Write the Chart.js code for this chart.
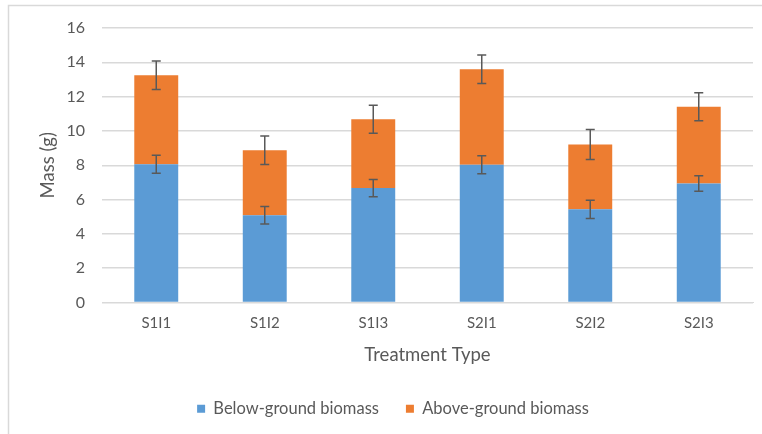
<!DOCTYPE html>
<html>
<head>
<meta charset="utf-8">
<script src="https://cdn.jsdelivr.net/npm/chart.js@4"></script>
<style>
  html, body { margin: 0; padding: 0; background: #fff; }
  #wrap { width: 762px; height: 434px; }
</style>
</head>
<body>
<div id="wrap"><canvas id="chart" width="762" height="434"></canvas></div>
<script>
// values
const treatments = ['S1I1', 'S1I2', 'S1I3', 'S2I1', 'S2I2', 'S2I3'];
const belowGround = [8.06, 5.08, 6.67, 8.03, 5.43, 6.94];
const aboveGround = [5.18, 3.79, 4.01, 5.57, 3.78, 4.47];
const belowErr = [0.53, 0.51, 0.50, 0.53, 0.53, 0.45];
const aboveErr = [0.83, 0.83, 0.81, 0.83, 0.88, 0.82];
const yTicks = [0, 2, 4, 6, 8, 10, 12, 14, 16];

const textColor = '#595959';
const gridColor = '#d9d9d9';

// outer frame like the office chart border
const framePlugin = {
  id: 'frame',
  beforeDraw(chart) {
    const ctx = chart.ctx;
    ctx.save();
    ctx.strokeStyle = '#d9d9d9';
    ctx.lineWidth = 1.5;
    ctx.beginPath();
    ctx.moveTo(8.5, 440);
    ctx.lineTo(8.5, 5.5);
    ctx.lineTo(770, 5.5);
    ctx.stroke();
    ctx.restore();
  }
};

// error bars drawn at the top of each stacked segment
const errorBarPlugin = {
  id: 'errorBars',
  afterDatasetsDraw(chart) {
    const ctx = chart.ctx;
    const y = chart.scales.y;
    const errs = [belowErr, aboveErr];
    ctx.save();
    ctx.strokeStyle = '#595959';
    ctx.lineWidth = 1.5;
    chart.data.datasets.forEach((ds, di) => {
      const meta = chart.getDatasetMeta(di);
      meta.data.forEach((bar, i) => {
        let top = 0;
        for (let k = 0; k <= di; k++) top += chart.data.datasets[k].data[i];
        const e = errs[di][i];
        const x = bar.x;
        const y1 = y.getPixelForValue(top + e);
        const y2 = y.getPixelForValue(top - e);
        ctx.beginPath();
        ctx.moveTo(x, y1); ctx.lineTo(x, y2);
        ctx.moveTo(x - 4.5, y1); ctx.lineTo(x + 4.5, y1);
        ctx.moveTo(x - 4.5, y2); ctx.lineTo(x + 4.5, y2);
        ctx.stroke();
      });
    });
    ctx.restore();
  }
};

new Chart(document.getElementById('chart'), {
  type: 'bar',
  data: {
    labels: treatments,
    datasets: [
      { label: 'Below-ground biomass', data: belowGround, backgroundColor: '#5b9bd5', categoryPercentage: 1, barPercentage: 0.405 },
      { label: 'Above-ground biomass', data: aboveGround, backgroundColor: '#ed7d31', categoryPercentage: 1, barPercentage: 0.405 }
    ]
  },
  options: {
    responsive: false,
    animation: false,
    layout: { padding: { left: 33, right: 9, top: 28, bottom: 7 } },
    plugins: {
      legend: {
        position: 'bottom',
        labels: {
          color: textColor,
          boxWidth: 8,
          boxHeight: 8,
          padding: 27,
          font: { family: 'Lato', size: 16.5 }
        }
      },
      tooltip: { enabled: false }
    },
    scales: {
      x: {
        stacked: true,
        grid: { display: false },
        border: { color: gridColor },
        ticks: { color: textColor, padding: 4, font: { family: 'Lato', size: 15 } },
        title: { display: true, text: 'Treatment Type', color: textColor, padding: { top: 6, bottom: 7 }, font: { family: 'Lato', size: 18.5 } },
        afterFit(s) { s.height = 71; }
      },
      y: {
        stacked: true,
        min: 0,
        max: 16,
        afterBuildTicks(s) { s.ticks = yTicks.map(v => ({ value: v })); },
        grid: { color: gridColor, lineWidth: 1.5, drawTicks: false },
        border: { display: false },
        ticks: { color: textColor, padding: 17, font: { family: 'Lato', size: 16 } },
        title: { display: true, text: 'Mass (g)', color: textColor, padding: { top: 4, bottom: 0 }, font: { family: 'Lato', size: 18.5 } },
        afterFit(s) { s.width = 69; }
      }
    }
  },
  plugins: [framePlugin, errorBarPlugin]
});
</script>
</body>
</html>
